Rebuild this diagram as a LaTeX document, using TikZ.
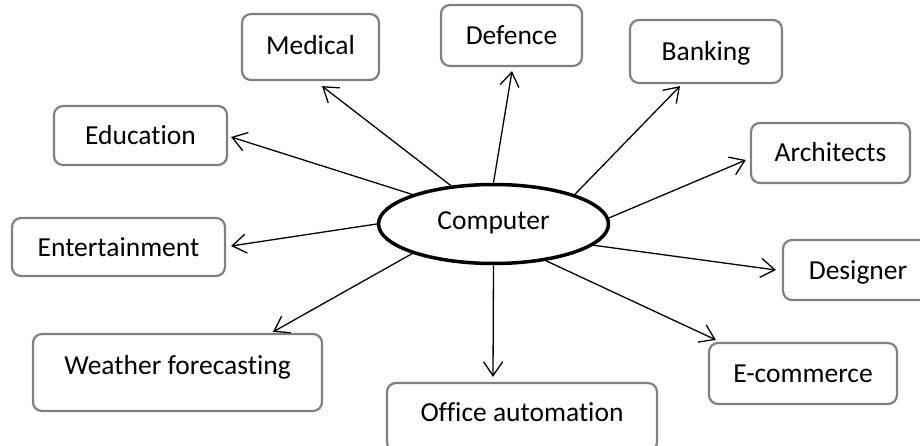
\documentclass[tikz,border=0pt]{standalone}
\usepackage{fontspec}
\setmainfont{Carlito}[Ligatures=NoCommon]
\usetikzlibrary{arrows.meta,shapes.geometric}
\definecolor{boxgray}{RGB}{128,128,128}
\begin{document}
\begin{tikzpicture}[x=1pt,y=-1pt,
  txt/.style={font=\fontsize{27.5}{32}\selectfont, text height=22pt, text depth=4pt},
  box/.style={txt, draw=boxgray, line width=2.2pt, rounded corners=9pt, inner sep=0pt, fill=white},
  hub/.style={txt, ellipse, draw=black, line width=3.5pt, inner sep=0pt, minimum width=230pt, minimum height=79pt},
  arr/.style={line width=1.3pt, -{Straight Barb[length=14pt,width=19pt,line width=1.3pt]}}
]
\useasboundingbox (0,0) rectangle (920,446);
\clip (0,0) rectangle (920,446);
\fill[white] (0,0) rectangle (920,446);

\node[hub, text depth=11.4pt] (comp) at (493.5,224) {Computer};

\node[box, minimum width=137pt, minimum height=66pt, text depth=6pt] (medical) at (310.5,47) {Medical};
\node[box, minimum width=141pt, minimum height=61pt] (defence) at (511.5,35.5) {Defence};
\node[box, minimum width=152pt, minimum height=63pt] (banking) at (706,51.5) {Banking};
\node[box, minimum width=173pt, minimum height=59pt] (education) at (140.5,135.5) {Education};
\node[box, minimum width=159pt, minimum height=60pt] (architects) at (830.5,153) {Architects};
\node[box, minimum width=213pt, minimum height=58pt] (entertainment) at (118.5,247) {Entertainment};
\node[box, minimum width=150pt, minimum height=60pt] (designer) at (858,270) {Designer};
\node[box, minimum width=289pt, minimum height=77pt, text depth=18pt] (weather) at (177.5,372.5) {Weather forecasting};
\node[box, minimum width=270pt, minimum height=68pt, text depth=12.6pt] (office) at (522,417) {Office automation};
\node[box, minimum width=188pt, minimum height=61pt] (ecommerce) at (803,373.5) {E-commerce};

\draw[arr] (comp.138) -- ([shift={(11.5,5)}]medical.south);
\draw[arr] (comp.160) -- ([shift={(3,1.5)}]education.east);
\draw[arr] (comp.90) -- ([shift={(0.5,4)}]defence.south);
\draw[arr] (comp.20) -- ([shift={(-26,2)}]banking.south);
\draw[arr] (comp.3.5) -- ([shift={(-4,7)}]architects.west);
\draw[arr] (comp.180.5) -- ([shift={(5,-1)}]entertainment.east);
\draw[arr] (comp.200) -- ([shift={(95.5,-1)}]weather.north);
\draw[arr] (comp.270) -- ([shift={(-29,-5)}]office.north);
\draw[arr] (comp.348) -- ([shift={(-6,0)}]designer.west);
\draw[arr] (comp.325) -- ([shift={(8,-2)}]ecommerce.north west);
\end{tikzpicture}
\end{document}
